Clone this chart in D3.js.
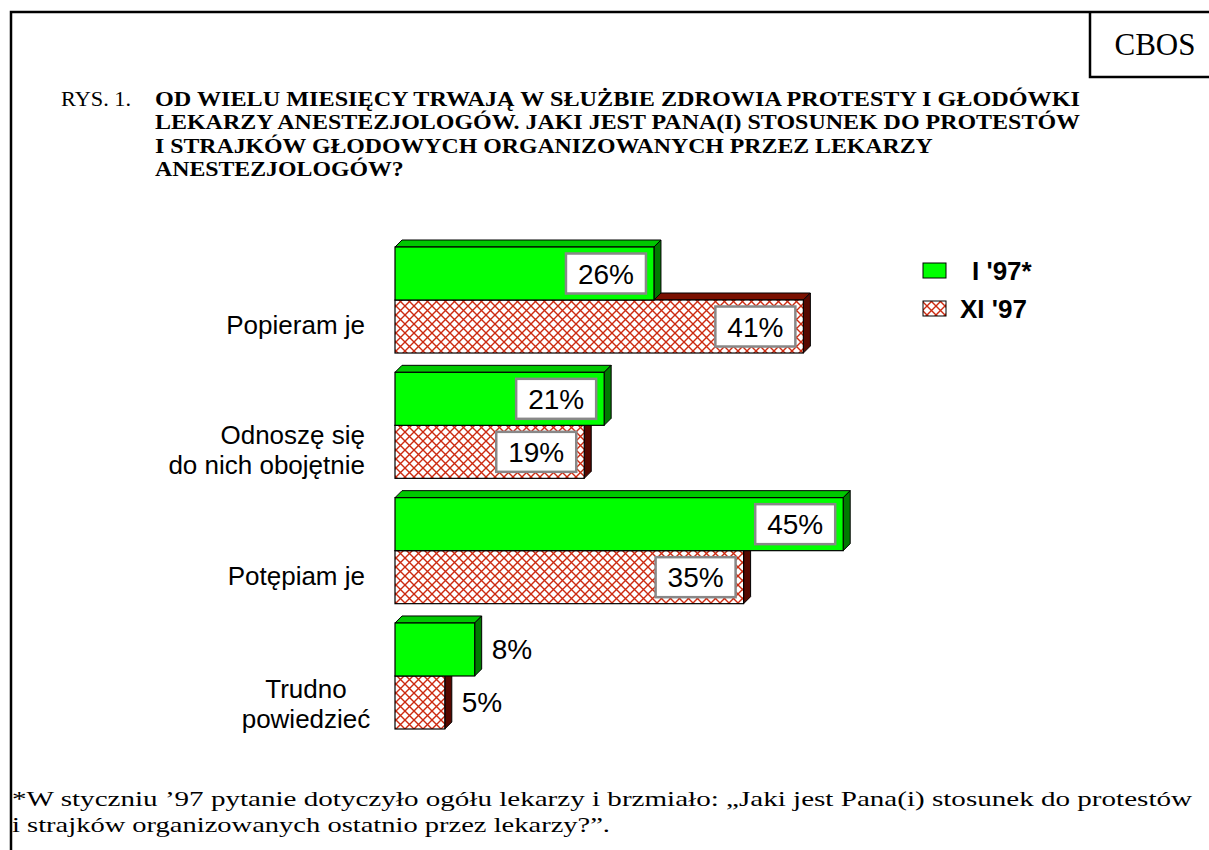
<!DOCTYPE html>
<html><head><meta charset="utf-8">
<script src="https://cdn.jsdelivr.net/npm/d3@7"></script>
<style>html,body{margin:0;padding:0;background:#fff;}svg{display:block;}</style>
</head><body>
<script>
const categories = ["Popieram je", "Odnoszę się\ndo nich obojętnie", "Potępiam je", "Trudno\npowiedzieć"];
const seriesNames = ["I '97*", "XI '97"];
const valuesI97 = [26, 21, 45, 8];
const valuesXI97 = [41, 19, 35, 5];
const titlePrefix = "RYS. 1.";
const titleLines = [
  "OD WIELU MIESIĘCY TRWAJĄ W SŁUŻBIE ZDROWIA PROTESTY I GŁODÓWKI",
  "LEKARZY ANESTEZJOLOGÓW. JAKI JEST PANA(I) STOSUNEK DO PROTESTÓW",
  "I STRAJKÓW GŁODOWYCH ORGANIZOWANYCH PRZEZ LEKARZY",
  "ANESTEZJOLOGÓW?"
];
const footLines = [
  "*W styczniu ’97 pytanie dotyczyło ogółu lekarzy i brzmiało: „Jaki jest Pana(i) stosunek do protestów",
  "i strajków organizowanych ostatnio przez lekarzy?”."
];
const brand = "CBOS";

const W = 1209, H = 850;
const svg = d3.select("body").append("svg").attr("width", W).attr("height", H);
const SERIF = "Liberation Serif, Times New Roman, serif";
const SANS = "Liberation Sans, Arial, sans-serif";

// pattern
const defs = svg.append("defs");
const pat = defs.append("pattern").attr("id", "hatch").attr("patternUnits", "userSpaceOnUse")
  .attr("width", 9).attr("height", 9);
pat.append("rect").attr("width", 9).attr("height", 9).attr("fill", "#fff");
pat.append("path").attr("d", "M0,0L9,9M9,0L0,9").attr("stroke", "#cc2a10").attr("stroke-width", 1.4);

// frame
svg.append("path").attr("d", "M11,850V12H1209").attr("fill", "none").attr("stroke", "#000").attr("stroke-width", 2.5);
svg.append("path").attr("d", "M1090,12V77H1209").attr("fill", "none").attr("stroke", "#000").attr("stroke-width", 2.5);
svg.append("text").attr("x", 1155).attr("y", 55).attr("text-anchor", "middle")
  .attr("font-family", SERIF).attr("font-size", 31).text(brand);

function fitText(sel, width) {
  sel.attr("textLength", width).attr("lengthAdjust", "spacingAndGlyphs");
  return sel;
}

// title
const tY0 = 106, tPitch = 23.3;
fitText(svg.append("text").attr("x", 61).attr("y", tY0).attr("font-family", SERIF)
  .attr("font-size", 20).text(titlePrefix), 70);
const titleScale = 1.19;
const justifyEnd = 1080;
titleLines.forEach((t, i) => {
  const el = svg.append("text").attr("x", 155).attr("y", tY0 + i * tPitch)
    .attr("font-family", SERIF).attr("font-weight", "bold").attr("font-size", 20)
    .text(t);
  const w = el.node().getComputedTextLength();
  fitText(el, i < 2 ? justifyEnd - 155 : w * titleScale);
});

// footnote
const f1 = svg.append("text").attr("x", 12).attr("y", 806).attr("font-family", SERIF)
  .attr("font-size", 22).text(footLines[0]);
fitText(f1, 1180);
const f2 = svg.append("text").attr("x", 12).attr("y", 832).attr("font-family", SERIF)
  .attr("font-size", 22).text(footLines[1]);
fitText(f2, 598);

// scales
const x = d3.scaleLinear().domain([0, 100]).range([395, 1391]);
const y = d3.scaleBand().domain(categories).range([247, 729]).paddingInner(0.154).paddingOuter(0);
const sub = d3.scaleBand().domain(seriesNames).range([0, y.bandwidth()]);
const D = 7;

const styles = [
  { front: "#00ff00", top: "#00c800", side: "#007a00" },
  { front: "url(#hatch)", top: "#7a1000", side: "#560800" }
];
const data = categories.map((c, i) => ({ c, v: [valuesI97[i], valuesXI97[i]] }));

function bar3d(g, x0, x1, y0, y1, st) {
  g.append("path").attr("d", `M${x0},${y0}L${x0 + D},${y0 - D}L${x1 + D},${y0 - D}L${x1},${y0}Z`)
    .attr("fill", st.top).attr("stroke", "#000").attr("stroke-width", 1).attr("stroke-linejoin", "round");
  g.append("path").attr("d", `M${x1},${y0}L${x1 + D},${y0 - D}L${x1 + D},${y1 - D}L${x1},${y1}Z`)
    .attr("fill", st.side).attr("stroke", "#000").attr("stroke-width", 1).attr("stroke-linejoin", "round");
  g.append("rect").attr("x", x0).attr("y", y0).attr("width", x1 - x0).attr("height", y1 - y0)
    .attr("fill", st.front).attr("stroke", "#000").attr("stroke-width", 1.2);
}

const chart = svg.append("g");
data.forEach(d => {
  [1, 0].forEach(s => {
    const y0 = y(d.c) + sub(seriesNames[s]);
    const y1 = y0 + sub.bandwidth();
    bar3d(chart, x(0), x(d.v[s]), y0, y1, styles[s]);
  });
});

// value labels
data.forEach(d => {
  [0, 1].forEach(s => {
    const y0 = y(d.c) + sub(seriesNames[s]);
    const yc = y0 + sub.bandwidth() / 2;
    const xe = x(d.v[s]);
    const label = d.v[s] + "%";
    if (xe - x(0) > 100) {
      const bw = 80, bh = 40;
      chart.append("rect").attr("x", xe - 8 - bw).attr("y", yc - bh / 2).attr("width", bw).attr("height", bh)
        .attr("fill", "#fff").attr("stroke", "#888").attr("stroke-width", 2.5);
      chart.append("text").attr("x", xe - 8 - bw / 2).attr("y", yc + 10).attr("text-anchor", "middle")
        .attr("font-family", SANS).attr("font-size", 28).text(label);
    } else {
      chart.append("text").attr("x", xe + D + 10).attr("y", yc + 10)
        .attr("font-family", SANS).attr("font-size", 28).text(label);
    }
  });
});

// category labels
data.forEach((d, i) => {
  const lines = d.c.split("\n");
  const yMid = y(d.c) + sub.bandwidth() + 25;
  const last = i === categories.length - 1;
  const t = svg.append("text").attr("font-family", SANS).attr("font-size", 26)
    .attr("text-anchor", last ? "middle" : "end");
  const lh = 30;
  const start = yMid - (lines.length - 1) * lh / 2 + (last ? 3 : 0);
  lines.forEach((l, k) => {
    t.append("tspan").attr("x", last ? 306 : 365).attr("y", start + k * lh + 9).text(l);
  });
});

// legend
const leg = svg.append("g");
seriesNames.forEach((n, i) => {
  const ly = 263 + i * 38;
  leg.append("rect").attr("x", 923).attr("y", ly).attr("width", 23).attr("height", 15)
    .attr("fill", i === 0 ? "#00ff00" : "url(#hatch)").attr("stroke", "#000").attr("stroke-width", 1);
  leg.append("text").attr("x", i === 0 ? 972 : 960).attr("y", ly + 17)
    .attr("font-family", SANS).attr("font-weight", "bold").attr("font-size", 26)
    .text(n);
});
</script>
</body></html>
